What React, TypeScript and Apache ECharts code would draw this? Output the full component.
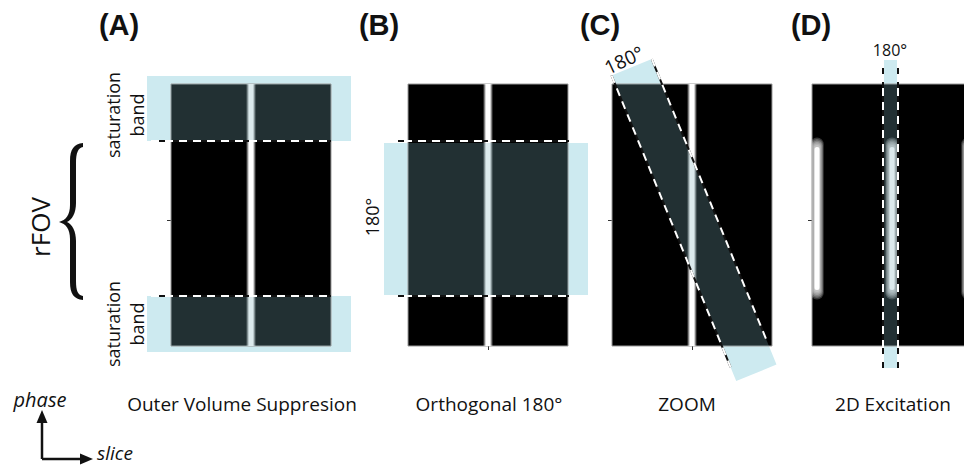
import React, { useEffect, useRef } from "react";
import * as echarts from "echarts";

// ---------- data (mm in slice / phase directions) ----------
const panelTitles = ["(A)", "(B)", "(C)", "(D)"];
const methodNames = ["Outer Volume Suppresion", "Orthogonal 180°", "ZOOM", "2D Excitation"];
const sliceRange = [-80, 80];
const phaseRange = [-126, 136];
const centerTicks = [0];

// bright signal: [slice position, phase from, phase to]
const signalA = [[0, -126, 136]];
const signalB = [[0, -126, 136]];
const signalC = [[0, -126, 136]];
const signalD = [[-75, -70, 73], [0, -70, 73], [76, -70, 73]];

// rectangular RF bands: [slice from, slice to, phase from, phase to]
const bandsA = [[-104, 100, 79, 144], [-104, 100, -132, -76]];
const bandsB = [[-104, 100, -75, 77]];
const bandsD = [[-9, 6, -148, 160]];
// tilted ZOOM band: [center slice, center phase, tilt (deg), half width, half length]
const zoomBand = [2, 0, 22.2, 21.75, 165];
// along-band extent of the dashed edges: [from, to] for left and right edges
const zoomEdges = [[-165, 150], [-165, 137]];

// dashed boundaries: [x1, y1, x2, y2]
const dashA = [[-100, 79, 80, 79], [-100, -76, 80, -76]];
const dashB = [[-98, 79, 81, 79], [-98, -76, 81, -76]];
const dashD = [[-9, 160, -9, -148], [6, 160, 6, -148]];

// ---------- shapes ----------
const bracePath =
  "M24,0 C15,1 11,6 11,18 L11,62 C11,72 7,77 0,79 C7,81 11,86 11,96 L11,139 C11,151 15,156 24,157 L24,153 C19,152 17,148 17,138 L17,98 C17,88 13,81 8,79 C13,77 17,70 17,60 L17,20 C17,10 19,5 24,4 Z";
echarts.graphic.registerShape("brace", echarts.graphic.extendPath(bracePath, {}));

const rectPoly = (b: number[]) => [
  [b[0], b[2]],
  [b[1], b[2]],
  [b[1], b[3]],
  [b[0], b[3]],
];

function tilted(b: number[]) {
  const [cx, cy, deg, hw] = b;
  const t = (deg * Math.PI) / 180;
  const u = [Math.sin(t), -Math.cos(t)];
  const n = [Math.cos(t), Math.sin(t)];
  return (side: number, s: number) => [cx + side * hw * n[0] + s * u[0], cy + side * hw * n[1] + s * u[1]];
}
const zp = tilted(zoomBand);
const hl = zoomBand[4];
const zoomPoly = [zp(-1, -hl), zp(1, -hl), zp(1, hl), zp(-1, hl)];
const dashC = [
  [...zp(-1, zoomEdges[0][0]), ...zp(-1, zoomEdges[0][1])],
  [...zp(1, zoomEdges[1][0]), ...zp(1, zoomEdges[1][1])],
];

const panels = [
  { left: 171, polys: bandsA.map(rectPoly), dashes: dashA, signal: signalA, blob: false },
  { left: 408, polys: bandsB.map(rectPoly), dashes: dashB, signal: signalB, blob: false },
  { left: 612, polys: [zoomPoly], dashes: dashC, signal: signalC, blob: false },
  { left: 812, polys: bandsD.map(rectPoly), dashes: dashD, signal: signalD, blob: true },
];

const GRID_TOP = 84;
const GRID_W = 160;
const GRID_H = 262;
const LIGHT_BLUE = "#cdeaf0";
const OVERLAY = "rgba(126,178,189,0.27)";
const HALO = [6, 7.5, 9, 10.5, 12, 13.5];

function buildSeries(i: number, p: any) {
  const base = { type: "custom", xAxisIndex: i, yAxisIndex: i, silent: true };
  return [
    {
      ...base,
      z: 1,
      clip: false,
      data: p.polys.map((_: any, k: number) => [k]),
      renderItem: (params: any, api: any) => ({
        type: "polygon",
        shape: { points: p.polys[params.dataIndex].map((pt: number[]) => api.coord(pt)) },
        style: { fill: LIGHT_BLUE },
      }),
    },
    {
      ...base,
      z: 2,
      clip: false,
      data: [[0]],
      renderItem: (_params: any, api: any) => {
        const a = api.coord([sliceRange[0], phaseRange[1]]);
        const b = api.coord([sliceRange[1], phaseRange[0]]);
        return {
          type: "rect",
          shape: { x: a[0], y: a[1], width: b[0] - a[0], height: b[1] - a[1] },
          style: { fill: "#000", stroke: "#9a9a9a", lineWidth: 1 },
        };
      },
    },
    {
      ...base,
      z: 3,
      clip: true,
      data: p.signal.map((_: any, k: number) => [k]),
      renderItem: (params: any, api: any) => {
        const s = p.signal[params.dataIndex];
        const top = api.coord([s[0], s[2]]);
        const bot = api.coord([s[0], s[1]]);
        const h = bot[1] - top[1];
        if (p.blob) {
          const children: any[] = HALO.map((w) => ({
            type: "rect",
            shape: { x: top[0] - w / 2, y: top[1] - (w - 4), width: w, height: h + 2 * (w - 4), r: w / 2 },
            style: { fill: "rgba(255,255,255,0.22)" },
          }));
          children.push({
            type: "rect",
            shape: { x: top[0] - 2.5, y: top[1], width: 5, height: h, r: 2.5 },
            style: { fill: "#ffffff" },
          });
          return { type: "group", children };
        }
        return {
          type: "rect",
          shape: { x: top[0] - 5, y: top[1], width: 10, height: h },
          style: {
            fill: new echarts.graphic.LinearGradient(0, 0, 1, 0, [
              { offset: 0, color: "rgba(255,255,255,0)" },
              { offset: 0.3, color: "#ffffff" },
              { offset: 0.7, color: "#ffffff" },
              { offset: 1, color: "rgba(255,255,255,0)" },
            ]),
          },
        };
      },
    },
    {
      ...base,
      z: 4,
      clip: true,
      data: p.polys.map((_: any, k: number) => [k]),
      renderItem: (params: any, api: any) => ({
        type: "polygon",
        shape: { points: p.polys[params.dataIndex].map((pt: number[]) => api.coord(pt)) },
        style: { fill: OVERLAY },
      }),
    },
    {
      ...base,
      z: 5,
      clip: false,
      data: p.dashes.map((_: any, k: number) => [k]),
      renderItem: (params: any, api: any) => {
        const d = p.dashes[params.dataIndex];
        const a = api.coord([d[0], d[1]]);
        const b = api.coord([d[2], d[3]]);
        const shape = { x1: a[0], y1: a[1], x2: b[0], y2: b[1] };
        return {
          type: "group",
          children: [
            { type: "line", shape, style: { stroke: "#111", lineWidth: 2 } },
            { type: "line", shape, style: { stroke: "#fff", lineWidth: 2, lineDash: [8, 6] } },
          ],
        };
      },
    },
  ];
}

const txt = (
  text: string,
  x: number,
  y: number,
  size: number,
  opts: { weight?: string; family?: string; italic?: boolean; rotation?: number } = {}
) => ({
  type: "text",
  x,
  y,
  rotation: opts.rotation || 0,
  z: 10,
  style: {
    text,
    fontSize: size,
    fontFamily: opts.family || "Open Sans",
    fontWeight: opts.weight || "normal",
    fontStyle: opts.italic ? "italic" : "normal",
    fill: "#111",
    align: "center",
    verticalAlign: "middle",
    textAlign: "center",
    textVerticalAlign: "middle",
  },
});

const titleX = [119, 379, 600, 811];
const methodX = [242, 489, 687, 893];

const graphics: any[] = [
  ...panelTitles.map((t, i) => txt(t, titleX[i], 25, 29, { weight: "bold", family: "Liberation Sans" })),
  ...methodNames.map((t, i) => txt(t, methodX[i], 404, 19)),
  txt("saturation", 113, 115, 18, { rotation: Math.PI / 2 }),
  txt("band", 137, 115, 18, { rotation: Math.PI / 2 }),
  txt("saturation", 113, 324, 18, { rotation: Math.PI / 2 }),
  txt("band", 137, 324, 18, { rotation: Math.PI / 2 }),
  txt("rFOV", 40, 227, 26, { rotation: Math.PI / 2 }),
  txt("180°", 372, 217, 18, { rotation: Math.PI / 2 }),
  txt("180°", 624, 60, 19, { rotation: (25 * Math.PI) / 180 }),
  txt("180°", 890, 50, 16),
  txt("phase", 40, 399, 20, { italic: true }),
  txt("slice", 115, 453, 19, { italic: true }),
  { type: "brace", x: 59, y: 143, z: 10, style: { fill: "#111" } },
  { type: "polyline", z: 10, shape: { points: [[42, 459], [42, 420]] }, style: { stroke: "#111", lineWidth: 2.5, fill: "none" } },
  { type: "polyline", z: 10, shape: { points: [[42, 459], [83, 459]] }, style: { stroke: "#111", lineWidth: 2.5, fill: "none" } },
  { type: "polygon", z: 10, shape: { points: [[42, 410], [36.5, 423], [47.5, 423]] }, style: { fill: "#111" } },
  { type: "polygon", z: 10, shape: { points: [[93, 459], [80, 453.5], [80, 464.5]] }, style: { fill: "#111" } },
];

const axisCommon = {
  type: "value",
  axisLine: { show: false, onZero: false },
  splitLine: { show: false },
  axisLabel: { show: false },
  axisTick: { show: true, length: 4, customValues: centerTicks, lineStyle: { color: "#333", width: 1 } },
};

const option: any = {
  animation: false,
  backgroundColor: "#ffffff",
  grid: panels.map((p) => ({ left: p.left, top: GRID_TOP, width: GRID_W, height: GRID_H, show: false })),
  xAxis: panels.map((_, i) => ({ ...axisCommon, gridIndex: i, min: sliceRange[0], max: sliceRange[1] })),
  yAxis: panels.map((_, i) => ({ ...axisCommon, gridIndex: i, min: phaseRange[0], max: phaseRange[1] })),
  series: panels.flatMap((p, i) => buildSeries(i, p)),
  graphic: graphics,
};

export default function App() {
  const ref = useRef<HTMLDivElement>(null);
  useEffect(() => {
    const chart = echarts.init(ref.current!, null, { renderer: "svg" });
    chart.setOption(option);
    return () => chart.dispose();
  }, []);
  return (
    <div
      style={{ position: "absolute", left: 0, top: 0, width: 964, height: 466, overflow: "hidden", background: "#fff" }}
    >
      <div ref={ref} style={{ width: 1000, height: 466 }} />
    </div>
  );
}
